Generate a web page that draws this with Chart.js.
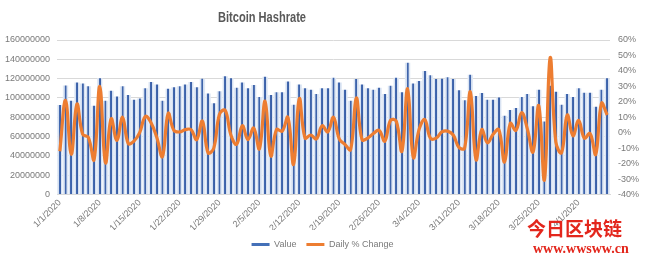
<!DOCTYPE html>
<html>
<head>
<meta charset="utf-8">
<script src="https://cdn.jsdelivr.net/npm/chart.js@4/dist/chart.umd.min.js"></script>
<style>
  html, body { margin: 0; padding: 0; background: #fff; }
  #wrap { width: 645px; height: 259px; position: relative; }
</style>
</head>
<body>
<div id="wrap"><canvas id="chart" width="645" height="259"></canvas></div>
<script>
// === DATOS ===
const monthDays = [[1, 31], [2, 29], [3, 31], [4, 6]];
const dates = [];
monthDays.forEach(([m, n]) => {
  for (let d = 1; d <= n; d++) dates.push(m + "/" + d + "/2020");
});

// hashrate (one bar per day)
const hashrate = [
  92800000, 113000000, 97000000, 116000000, 115000000, 112000000, 92000000, 120500000,
  97000000, 107500000, 101500000, 112000000, 103000000, 98000000, 99500000, 110000000,
  116500000, 114000000, 97000000, 109500000, 111000000, 112000000, 114000000, 116500000,
  111000000, 120000000, 104500000, 94500000, 107000000, 122500000, 120500000, 110500000,
  116000000, 110000000, 113500000, 101000000, 122000000, 103000000, 106000000, 106000000,
  117000000, 93000000, 114000000, 110000000, 108500000, 104000000, 110000000, 110000000,
  121000000, 116000000, 108500000, 97000000, 119500000, 114000000, 110000000, 108500000,
  110500000, 104000000, 112500000, 121000000, 106000000, 136500000, 115000000, 117500000,
  128000000, 123500000, 119500000, 120000000, 121500000, 119500000, 108000000, 97500000,
  124000000, 102000000, 105000000, 98000000, 98000000, 100500000, 81500000, 87500000,
  89500000, 101000000, 104000000, 91500000, 108500000, 75500000, 112500000, 106500000,
  93000000, 104000000, 101000000, 110000000, 105500000, 105500000, 91000000, 108500000,
  120500000
];

// daily % change
const dailyChange = [
  -12, 21, -14, 18.5, -1, -3, -17.5, 30,
  -19.5, 9, -5, 10, -7, -5.5, 0, 10.5,
  6.5, -3, -15.5, 12.5, 1.5, 0.5, 2, 2,
  -4.5, 7.5, -13, -10, 12, 14.5, -1.5, -7.5,
  4.5, -4.5, 3, -10.5, 20.5, -15, 2, 1,
  10, -20.5, 22, -3.5, -1.5, -4, 4.5, 0.5,
  10, -4, -7.5, -11, 22.5, -4.5, -3.5, -0.5,
  1.5, -5.5, 8, 7.5, -12, 28.5, -16, 2,
  8.5, -3.5, -3.5, 0.5, 1, -1.5, -9.5, -10,
  26.5, -17.5, 2, -6.5, -1, 2, -19, 6,
  1.5, 13, 2.5, -12.5, 17.5, -30.5, 48.5, -6,
  -13, 11.5, -2, 8, -3.5, -0.5, -14, 19,
  11.5
];

const leftTicks = [0, 20000000, 40000000, 60000000, 80000000, 100000000, 120000000, 140000000, 160000000];
const rightTicks = [-40, -30, -20, -10, 0, 10, 20, 30, 40, 50, 60];

const BLUE = "#4470b8";
const ORANGE = "#ED7D31";
const GREY_TXT = "#7a7a7a";
const GRID = "#d9d9d9";
const TICK_FONT = { family: "'Liberation Sans', Arial, sans-serif", size: 9 };

// === RELLENO DE BARRA (gradiente horizontal) ===
function barFill(ctx) {
  const chart = ctx.chart;
  const xs = chart.scales.x;
  if (!xs || ctx.type !== "data" || !xs.width) return BLUE;
  const cx = xs.getPixelForValue(ctx.dataIndex);
  const half = (xs.width / dates.length) * 0.96 * 0.5;
  const g = chart.ctx.createLinearGradient(cx - half, 0, cx + half, 0);
  g.addColorStop(0, "rgba(230,237,247,1)");
  g.addColorStop(0.3, "rgba(210,222,240,1)");
  g.addColorStop(0.36, "#4369b0");
  g.addColorStop(0.64, "#3a5fa6");
  g.addColorStop(0.7, "rgba(210,222,240,1)");
  g.addColorStop(1, "rgba(230,237,247,1)");
  return g;
}

// === TITULO Y MARCA ===
const decor = {
  id: "decor",
  afterDraw(chart) {
    const c = chart.ctx;
    c.save();
    c.fillStyle = "#595959";
    c.font = "bold 14px 'Liberation Sans', sans-serif";
    c.textAlign = "center";
    c.textBaseline = "middle";
    const w = c.measureText("Bitcoin Hashrate").width;
    c.translate(262, 18);
    c.scale(Math.min(1, 88 / w), 1);
    c.fillText("Bitcoin Hashrate", 0, 0);
    c.setTransform(1, 0, 0, 1, 0, 0);

    c.fillStyle = "#e3261c";
    c.textAlign = "left";
    c.font = "bold 19px 'Noto Sans CJK SC', sans-serif";
    c.fillText("今日区块链", 527, 229);
    c.font = "bold 14px 'Liberation Serif', serif";
    c.fillText("www.wwsww.cn", 533, 249);
    c.restore();
  }
};

new Chart(document.getElementById("chart"), {
  data: {
    labels: dates,
    datasets: [
      {
        type: "bar",
        label: "Value",
        data: hashrate,
        yAxisID: "y",
        backgroundColor: barFill,
        barPercentage: 1,
        categoryPercentage: 0.96,
        order: 2
      },
      {
        type: "line",
        label: "Daily % Change",
        data: dailyChange,
        yAxisID: "y1",
        borderColor: ORANGE,
        borderWidth: 3.2,
        tension: 0.4,
        pointRadius: 0,
        order: 1
      }
    ]
  },
  options: {
    responsive: false,
    animation: false,
    devicePixelRatio: 1,
    layout: { padding: { top: 40, left: 0, right: 0, bottom: 0 } },
    plugins: {
      title: { display: false },
      tooltip: { enabled: false },
      legend: {
        position: "bottom",
        labels: {
          color: GREY_TXT,
          font: TICK_FONT,
          boxWidth: 18,
          boxHeight: 3,
          padding: 10,
          generateLabels: () => [
            { text: "Value", fillStyle: BLUE, strokeStyle: BLUE, lineWidth: 0, datasetIndex: 0, fontColor: GREY_TXT },
            { text: "Daily % Change", fillStyle: ORANGE, strokeStyle: ORANGE, lineWidth: 0, datasetIndex: 1, fontColor: GREY_TXT }
          ]
        }
      }
    },
    scales: {
      x: {
        grid: { display: false, drawTicks: false },
        border: { display: true, color: GRID },
        ticks: {
          autoSkip: false,
          maxRotation: 45,
          minRotation: 45,
          padding: 3,
          color: GREY_TXT,
          font: TICK_FONT,
          callback: (v, i) => (i % 7 === 0 ? dates[i] : "")
        },
        afterFit: (s) => { s.height = 35.5; }
      },
      y: {
        position: "left",
        min: 0,
        max: 160000000,
        afterBuildTicks: (s) => { s.ticks = leftTicks.map((v) => ({ value: v })); },
        grid: { color: GRID, drawTicks: false },
        border: { display: false },
        ticks: { color: GREY_TXT, font: TICK_FONT, padding: 7, callback: (v) => String(v) },
        afterFit: (s) => { s.width = 57; }
      },
      y1: {
        position: "right",
        min: -40,
        max: 60,
        afterBuildTicks: (s) => { s.ticks = rightTicks.map((v) => ({ value: v })); },
        grid: { display: false, drawTicks: false },
        border: { display: false },
        ticks: { color: GREY_TXT, font: TICK_FONT, padding: 8, callback: (v) => v + "%" },
        afterFit: (s) => { s.width = 35; }
      }
    }
  },
  plugins: [decor]
});
</script>
</body>
</html>
